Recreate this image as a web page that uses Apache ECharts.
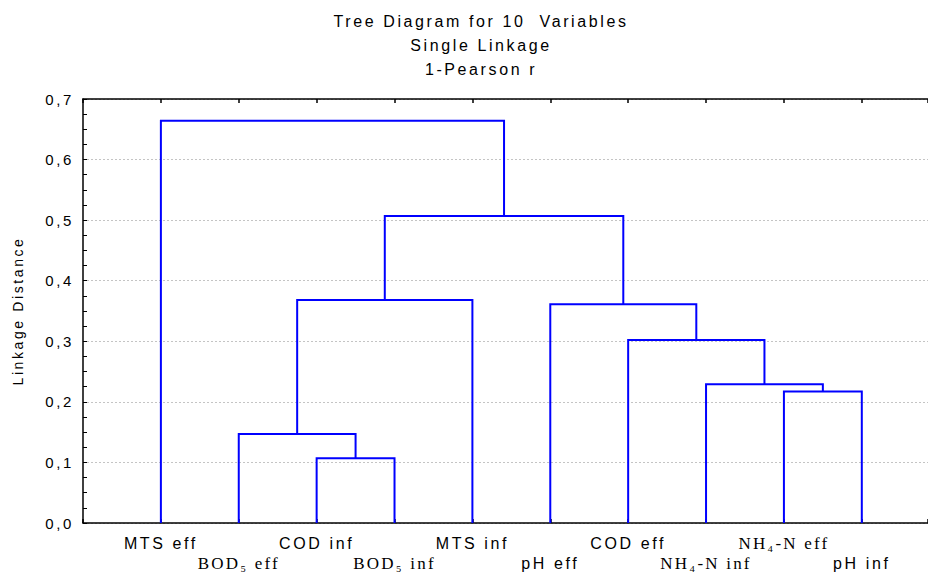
<!DOCTYPE html>
<html>
<head>
<meta charset="utf-8">
<script src="https://cdn.jsdelivr.net/npm/echarts@6/dist/echarts.min.js"></script>
<style>
  html, body { margin: 0; padding: 0; background: #fff; overflow: hidden; }
  #chart { width: 928px; height: 572px; overflow: hidden; background: #fff; }
  #chart text { letter-spacing: 2.6px; }
  #chart text[style*="Serif"] { letter-spacing: 2.2px; }
</style>
</head>
<body>
<div id="chart"></div>
<script>
// ---- data ----
const titleLines = ['Tree Diagram for 10  Variables', 'Single Linkage', '1-Pearson r'];
const yAxisTitle = 'Linkage Distance';
const leafLabels = ['MTS eff', 'BOD\u2085 eff', 'COD inf', 'BOD\u2085 inf', 'MTS inf',
                    'pH eff', 'COD eff', 'NH\u2084-N inf', 'NH\u2084-N eff', 'pH inf'];
// linkage rows: cluster ids 0..9 are leaves, row k creates cluster 10+k
const mergeA      = [2, 1, 8, 7, 6, 5, 11, 16, 0];
const mergeB      = [3, 10, 9, 12, 13, 14, 4, 15, 17];
const mergeHeight = [0.107, 0.147, 0.217, 0.229, 0.302, 0.361, 0.368, 0.507, 0.664];
const yTicks = [0, 0.1, 0.2, 0.3, 0.4, 0.5, 0.6, 0.7];

// ---- derived positions (leaf i sits at x = i + 1) ----
const nLeaves = leafLabels.length;
const pos = [], hgt = [];
for (let i = 0; i < nLeaves; i++) { pos.push(i + 1); hgt.push(0); }
const segs = [];
for (let k = 0; k < mergeA.length; k++) {
  const a = mergeA[k], b = mergeB[k], h = mergeHeight[k];
  segs.push([pos[a], hgt[a], pos[b], hgt[b], h]);
  pos.push((pos[a] + pos[b]) / 2);
  hgt.push(h);
}

const SANS = "'Liberation Sans', Arial, sans-serif";
const SERIF = "'Liberation Serif', 'Times New Roman', serif";
const isSerif = s => /[\u2080-\u2089]/.test(s);

const chart = echarts.init(document.getElementById('chart'), null, { renderer: 'svg' });

const rich = {
  s: { fontFamily: SANS,  fontSize: 16, color: '#000', align: 'center', lineHeight: 18 },
  r: { fontFamily: SERIF, fontSize: 17, color: '#000', align: 'center', lineHeight: 18 }
};
function labelFor(parity) {
  return function (v) {
    if (Math.abs(v - Math.round(v)) > 1e-6) return '';
    const i = Math.round(v) - 1;
    if (i < 0 || i >= nLeaves || i % 2 !== parity) return '';
    const lab = leafLabels[i];
    return '{' + (isSerif(lab) ? 'r' : 's') + '|' + lab + '}';
  };
}

const commonX = {
  type: 'value', min: 0, max: nLeaves + 0.85, interval: 1,
  axisLine: { show: true, lineStyle: { color: '#000', width: 1.5 } },
  axisTick: { show: true, inside: true, length: 4, lineStyle: { color: '#000', width: 1.5 } },
  splitLine: { show: false }
};

chart.setOption({
  animation: false,
  title: {
    text: titleLines.join('\n'),
    left: 476, top: 4, textAlign: 'center',
    textStyle: { fontFamily: SANS, fontSize: 16, fontWeight: 'normal', color: '#000', lineHeight: 24 }
  },
  grid: { left: 83, top: 99, bottom: 49, right: 0, containLabel: false, outerBoundsMode: 'none' },
  xAxis: [
    Object.assign({}, commonX, {
      position: 'bottom',
      axisLabel: { show: true, margin: 11, formatter: labelFor(0), rich: rich }
    }),
    Object.assign({}, commonX, {
      position: 'bottom', offset: 20,
      axisLine: { show: false }, axisTick: { show: false },
      axisLabel: { show: true, margin: 11, formatter: labelFor(1), rich: rich }
    }),
    Object.assign({}, commonX, { position: 'top', axisLabel: { show: false } })
  ],
  yAxis: {
    type: 'value', min: 0, max: 0.7, interval: 0.1,
    name: yAxisTitle, nameLocation: 'middle', nameRotate: 90, nameGap: 58,
    nameTextStyle: { fontFamily: SANS, fontSize: 14, color: '#000' },
    axisLine: { show: true, lineStyle: { color: '#000', width: 1.5 } },
    axisTick: { show: true, inside: true, length: 4, lineStyle: { color: '#000', width: 1 } },
    minorTick: { show: true, splitNumber: 4, length: 4, lineStyle: { color: '#000', width: 1 } },
    axisLabel: {
      margin: 9, fontFamily: SANS, fontSize: 15, color: '#000',
      formatter: v => {
        const t = yTicks.find(x => Math.abs(x - v) < 1e-9);
        return (t === undefined ? v : t).toFixed(1).replace('.', ',');
      }
    },
    splitLine: { show: true, lineStyle: { color: '#c4c4c4', width: 1, type: [2, 2] } }
  },
  series: [{
    type: 'custom',
    coordinateSystem: 'cartesian2d',
    xAxisIndex: 0,
    data: segs,
    encode: { x: [0, 2], y: [1, 3, 4] },
    renderItem: function (params, api) {
      const xa = api.value(0), ha = api.value(1), xb = api.value(2), hb = api.value(3), h = api.value(4);
      const p1 = api.coord([xa, ha]), p2 = api.coord([xa, h]), p3 = api.coord([xb, h]), p4 = api.coord([xb, hb]);
      return {
        type: 'polyline',
        shape: { points: [p1, p2, p3, p4] },
        style: { stroke: '#0000ff', lineWidth: 2, fill: null }
      };
    }
  }]
});
</script>
</body>
</html>
